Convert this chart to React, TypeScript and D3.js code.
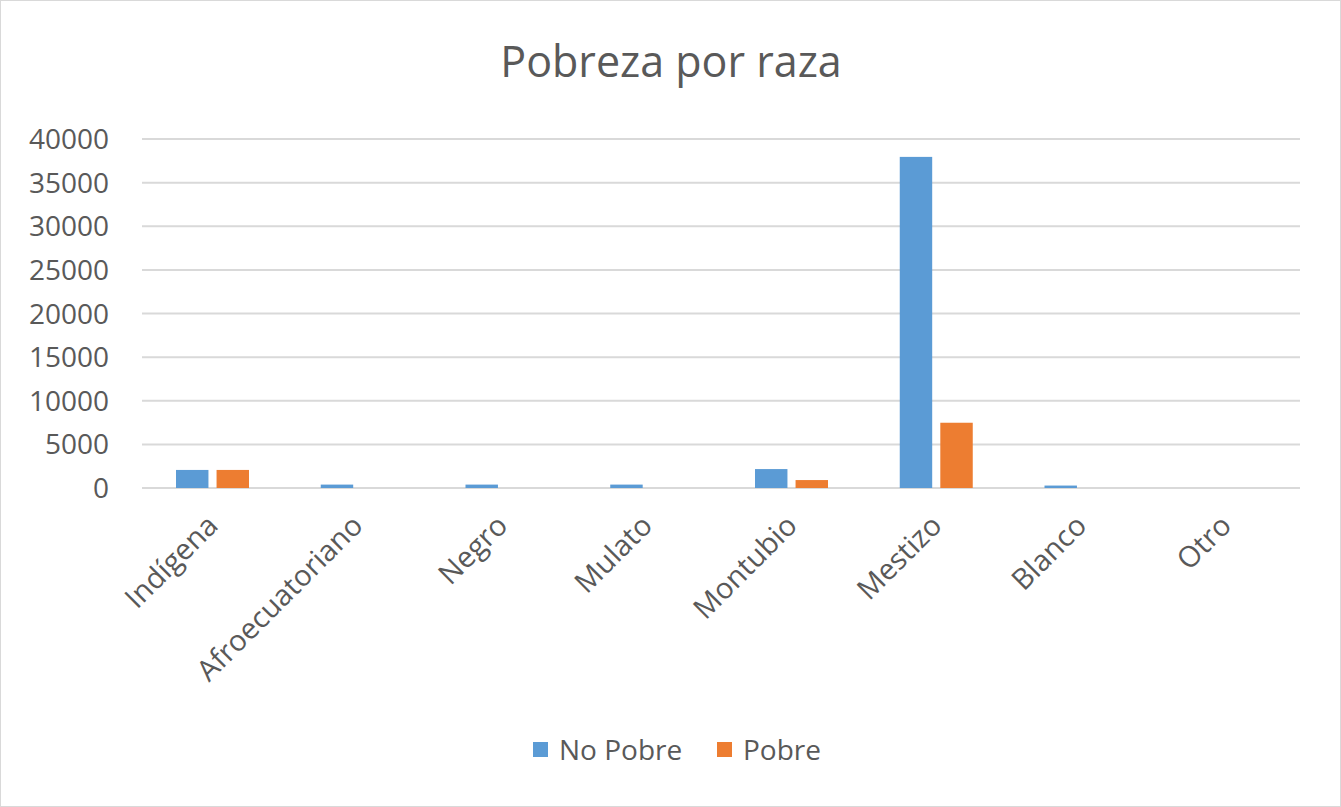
import React, { useEffect, useRef } from 'react';
import * as d3 from 'd3';

const categorias = ['Indígena', 'Afroecuatoriano', 'Negro', 'Mulato', 'Montubio', 'Mestizo', 'Blanco', 'Otro'];
const series = ['No Pobre', 'Pobre'];
const noPobre = [2070, 390, 390, 390, 2170, 37950, 280, 0];
const pobre = [2070, 0, 0, 0, 910, 7480, 0, 0];
const ticks = [0, 5000, 10000, 15000, 20000, 25000, 30000, 35000, 40000];
const colores = ['#5b9bd5', '#ed7d31'];

const W = 1341;
const H = 807;
const FONT = '"Open Sans", "Segoe UI", sans-serif';
const TXT = '#595959';

export default function App() {
  const ref = useRef<SVGSVGElement>(null);

  useEffect(() => {
    const svg = d3.select(ref.current);
    svg.selectAll('*').remove();

    const x0 = d3.scaleBand().domain(categorias).range([142, 1300]);
    const x1 = d3.scaleBand().domain(series).range([34, 107]).paddingInner(0.2);
    const y = d3.scaleLinear().domain([0, 40000]).range([488, 139]);

    svg.append('rect')
      .attr('x', 0.5).attr('y', 0.5)
      .attr('width', W - 1).attr('height', H - 1)
      .attr('fill', '#fff').attr('stroke', '#d9d9d9');

    svg.append('text')
      .attr('x', 671).attr('y', 77)
      .attr('text-anchor', 'middle')
      .attr('font-family', FONT).attr('font-size', 43)
      .attr('fill', TXT)
      .text('Pobreza por raza');

    // grid
    svg.append('g').selectAll('line').data(ticks).enter().append('line')
      .attr('x1', 142).attr('x2', 1300)
      .attr('y1', d => y(d)).attr('y2', d => y(d))
      .attr('stroke', '#d9d9d9').attr('stroke-width', 2);

    svg.append('g').selectAll('text').data(ticks).enter().append('text')
      .attr('x', 109).attr('y', d => y(d))
      .attr('dy', '0.36em')
      .attr('text-anchor', 'end')
      .attr('font-family', FONT).attr('font-size', 28)
      .attr('fill', TXT)
      .text(d => String(d));

    const valores = [noPobre, pobre];
    series.forEach((s, si) => {
      svg.append('g').selectAll('rect').data(valores[si]).enter().append('rect')
        .attr('x', (d, i) => (x0(categorias[i]) as number) + (x1(s) as number))
        .attr('y', d => y(d))
        .attr('width', x1.bandwidth())
        .attr('height', d => y(0) - y(d))
        .attr('fill', colores[si]);
    });

    svg.append('g').selectAll('text').data(categorias).enter().append('text')
      .attr('transform', d => `translate(${(x0(d) as number) + x0.bandwidth() / 2 - 2},${520}) rotate(-45)`)
      .attr('text-anchor', 'end')
      .attr('dy', '0.36em')
      .attr('font-family', FONT).attr('font-size', 29)
      .attr('fill', TXT)
      .text(d => d);

    // legend
    const leg = svg.append('g');
    const lx = [533, 717];
    series.forEach((s, si) => {
      leg.append('rect')
        .attr('x', lx[si]).attr('y', 742)
        .attr('width', 15).attr('height', 15)
        .attr('fill', colores[si]);
      leg.append('text')
        .attr('x', lx[si] + 26).attr('y', 750)
        .attr('dy', '0.36em')
        .attr('font-family', FONT).attr('font-size', 28)
        .attr('fill', TXT)
        .text(s);
    });
  }, []);

  return (
    <svg ref={ref} width={W} height={H} style={{ position: 'absolute', left: 0, top: 0 }} />
  );
}
